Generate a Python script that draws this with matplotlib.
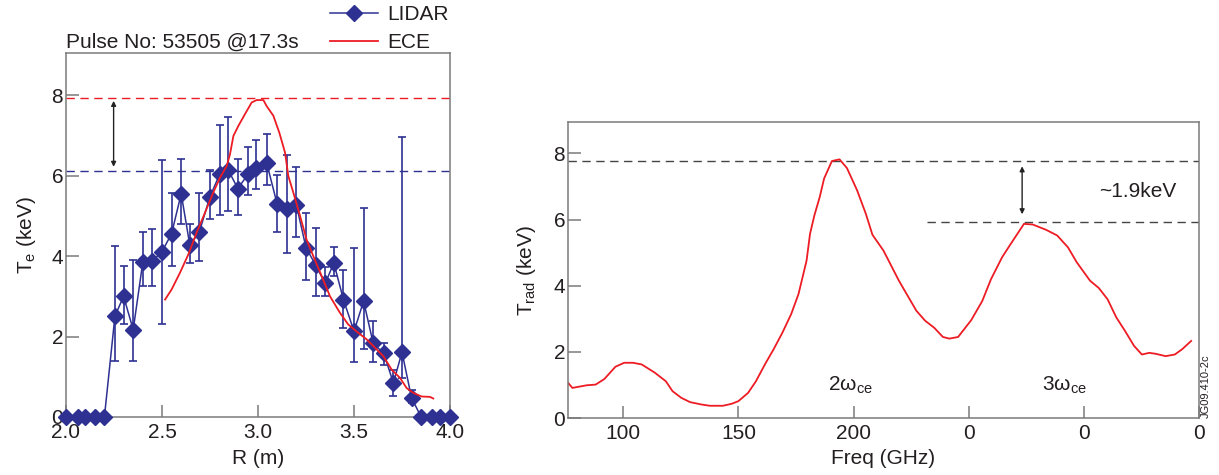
import matplotlib
matplotlib.use("Agg")
import matplotlib.pyplot as plt

plt.rcParams['font.family'] = ['Liberation Sans', 'DejaVu Sans']
plt.rcParams['mathtext.fontset'] = 'custom'
plt.rcParams['mathtext.rm'] = 'Liberation Sans'

# ---- left panel: LIDAR vs ECE profile ----
lidar_r = [2.00, 2.06, 2.10, 2.15, 2.20, 2.255, 2.30, 2.35, 2.40, 2.45, 2.50,
           2.55, 2.60, 2.645, 2.695, 2.75, 2.80, 2.845, 2.895, 2.95, 2.99,
           3.045, 3.10, 3.15, 3.20, 3.25, 3.30, 3.35, 3.395, 3.445, 3.50,
           3.55, 3.60, 3.655, 3.705, 3.75, 3.80, 3.85, 3.905, 3.95, 4.00]
lidar_te = [0, 0, 0, 0, 0, 2.51, 3.00, 2.17, 3.85, 3.88, 4.11,
            4.56, 5.55, 4.27, 4.61, 5.48, 6.03, 6.14, 5.68, 6.05, 6.20,
            6.32, 5.29, 5.16, 5.27, 4.21, 3.78, 3.32, 3.83, 2.92, 2.13,
            2.88, 1.83, 1.58, 0.85, 1.61, 0.47, 0, 0, 0, 0]
lidar_hi = [0, 0, 0, 0, 0, 4.25, 3.75, 3.90, 4.61, 4.68, 6.38,
            5.56, 6.42, 4.81, 5.56, 6.13, 7.25, 7.47, 6.42, 6.72, 6.88,
            7.03, 6.02, 6.51, 6.22, 5.06, 4.69, 3.73, 4.23, 3.65, 4.21,
            5.19, 2.38, 1.84, 1.18, 6.97, 0.68, 0, 0, 0, 0]
lidar_lo = [0, 0, 0, 0, 0, 1.40, 2.30, 1.40, 3.25, 3.25, 2.30,
            3.75, 4.81, 3.83, 3.88, 4.93, 5.03, 5.11, 5.03, 5.52, 5.68,
            5.77, 4.61, 4.07, 4.48, 3.40, 3.00, 3.00, 3.50, 2.22, 1.36,
            1.68, 1.36, 1.30, 0.53, 0.97, 0.35, 0, 0, 0, 0]

ece_r = [2.516, 2.55, 2.594, 2.637, 2.68, 2.724, 2.767, 2.802, 2.837, 2.854,
         2.872, 2.898, 2.932, 2.967, 2.993, 3.028, 3.045, 3.08, 3.111, 3.141,
         3.158, 3.184, 3.219, 3.253, 3.288, 3.332, 3.375, 3.427, 3.47, 3.523,
         3.566, 3.61, 3.653, 3.696, 3.74, 3.774, 3.809, 3.852, 3.896, 3.913]
ece_te = [2.92, 3.17, 3.59, 4.04, 4.58, 5.08, 5.58, 5.95, 6.24, 6.53,
          6.99, 7.24, 7.53, 7.82, 7.88, 7.88, 7.73, 7.49, 7.07, 6.57,
          5.99, 5.58, 5.00, 4.41, 4.00, 3.50, 3.00, 2.59, 2.30, 2.09,
          1.93, 1.72, 1.51, 1.18, 0.97, 0.72, 0.60, 0.51, 0.50, 0.46]

ece_peak = 7.93
lidar_peak = 6.12

# ---- right panel: ECE spectrum ----
freq = [76.1, 77.9, 84.2, 88.0, 91.8, 96.6, 100.4, 104.2, 108.0, 113.7,
        118.5, 121.4, 125.2, 129.0, 133.8, 137.6, 143.3, 147.1, 150.0, 154.2,
        157.6, 161.5, 165.3, 169.1, 172.9, 176.1, 179.6, 181.1, 183.0, 185.3,
        187.2, 190.6, 193.9, 197.1, 201.5, 205.3, 208.2, 213.0, 219.7, 227.3,
        231.1, 235.0, 238.8, 241.6, 245.4, 251.1, 255.9, 259.7, 264.5, 268.3,
        274.0, 277.8, 283.6, 288.4, 293.1, 296.9, 302.7, 306.5, 310.3, 314.1,
        317.9, 321.8, 325.2, 328.4, 331.3, 335.5, 339.5, 342.7, 346.6]
trad = [1.06, 0.91, 0.99, 1.01, 1.18, 1.55, 1.67, 1.67, 1.62, 1.37,
        1.11, 0.81, 0.61, 0.48, 0.41, 0.37, 0.37, 0.43, 0.51, 0.76,
        1.11, 1.62, 2.08, 2.58, 3.14, 3.75, 4.76, 5.57, 6.13, 6.68,
        7.24, 7.77, 7.82, 7.56, 6.89, 6.18, 5.54, 5.06, 4.15, 3.24,
        2.94, 2.73, 2.45, 2.40, 2.45, 2.96, 3.54, 4.20, 4.86, 5.27,
        5.87, 5.85, 5.69, 5.52, 5.16, 4.71, 4.15, 3.93, 3.59, 3.04,
        2.63, 2.18, 1.92, 1.97, 1.94, 1.87, 1.92, 2.08, 2.33]
freq_ticks = [100, 150, 200, 250, 300, 350]
freq_labels = ['100', '150', '200', '0', '0', '0']
peak2 = 7.77
peak3 = 5.94

navy = '#2E3192'
red = '#ED1C24'
spine_c = '#7a7a7a'
txt_c = '#231F20'
fs = 15

W, H = 1219, 475
fig = plt.figure(figsize=(W / 100, H / 100), dpi=100)
ax1 = fig.add_axes([66 / W, 1 - 417 / H, 384 / W, 364 / H])
ax2 = fig.add_axes([568 / W, 1 - 418 / H, 631 / W, 296 / H])

for ax in (ax1, ax2):
    for s in ax.spines.values():
        s.set_color(spine_c)
        s.set_linewidth(1.1)
    ax.tick_params(direction='in', length=9, width=1.1, color=spine_c,
                   labelsize=fs, labelcolor=txt_c, top=False, right=False)
    ax.tick_params(axis='y', pad=2)
    ax.tick_params(axis='x', pad=4)

# left panel
yerr = [[t - lo for t, lo in zip(lidar_te, lidar_lo)],
        [hi - t for t, hi in zip(lidar_te, lidar_hi)]]
ax1.axhline(ece_peak, color=red, lw=1.0, dashes=(6, 4))
ax1.axhline(lidar_peak, color=navy, lw=1.0, dashes=(6, 4))
ax1.errorbar(lidar_r, lidar_te, yerr=yerr, fmt='none', ecolor=navy,
             elinewidth=1.2, capsize=3, capthick=1.2, zorder=3)
ax1.plot(lidar_r, lidar_te, color=navy, lw=1.1, marker='D', ms=8.5,
         mec=navy, mfc=navy, label='LIDAR', zorder=4, clip_on=False)
ax1.plot(ece_r, ece_te, color=red, lw=1.3, label='ECE', zorder=5)
ax1.annotate('', xy=(2.248, 6.22), xytext=(2.248, 7.86),
             arrowprops=dict(arrowstyle='<|-|>', color='#222222', lw=1.0,
                             mutation_scale=7, shrinkA=0, shrinkB=0))
ax1.set_xlim(2.0, 4.0)
ax1.set_ylim(0, 9.05)
ax1.set_xticks([2.0, 2.5, 3.0, 3.5, 4.0])
ax1.set_xticklabels(['2.0', '2.5', '3.0', '3.5', '4.0'])
ax1.set_yticks([0, 2, 4, 6, 8])
ax1.set_xlabel('R (m)', fontsize=fs, color=txt_c, labelpad=5)
ax1.set_ylabel(r'T$_{\mathregular{e}}$ (keV)', fontsize=fs, color=txt_c, labelpad=10)
ax1.text(0.0, 1.0 + 11 / 364, 'Pulse No: 53505 @17.3s', transform=ax1.transAxes,
         fontsize=fs, color=txt_c, ha='left', va='center')
fig.legend(loc='upper left', bbox_to_anchor=(330 / W, 1 - 5 / H), frameon=False,
           fontsize=fs, handlelength=2.3, handletextpad=0.45, labelspacing=0.45,
           borderpad=0, borderaxespad=0, labelcolor=txt_c)

# right panel
ax2.axhline(peak2, color='#444444', lw=1.0, dashes=(6, 4))
ax2.plot([232, 350], [peak3, peak3], color='#444444', lw=1.0, dashes=(6, 4))
ax2.plot(freq, trad, color=red, lw=1.3)
ax2.annotate('', xy=(273.2, 6.16), xytext=(273.2, 7.61),
             arrowprops=dict(arrowstyle='<|-|>', color='#222222', lw=1.0,
                             mutation_scale=7, shrinkA=0, shrinkB=0))
ax2.text(306.5, 6.84, '~1.9keV', fontsize=fs, color=txt_c, ha='left', va='center')
ax2.text(189, 1.0, r'2ω$_{\mathregular{ce}}$', fontsize=fs, color=txt_c,
         ha='left', va='center')
ax2.text(282, 1.0, r'3ω$_{\mathregular{ce}}$', fontsize=fs, color=txt_c,
         ha='left', va='center')
ax2.set_xlim(76, 350)
ax2.set_ylim(0, 8.95)
ax2.set_xticks(freq_ticks)
ax2.set_xticklabels(freq_labels)
ax2.set_yticks([0, 2, 4, 6, 8])
ax2.set_xlabel('Freq (GHz)', fontsize=fs, color=txt_c, labelpad=5)
ax2.set_ylabel(r'T$_{\mathregular{rad}}$ (keV)', fontsize=fs, color=txt_c, labelpad=11)
fig.text(1206 / W, 1 - 418 / H, 'JG09.410-2c', rotation=90, fontsize=8,
         color=txt_c, ha='center', va='bottom')

fig.savefig('out.png', dpi=100)
